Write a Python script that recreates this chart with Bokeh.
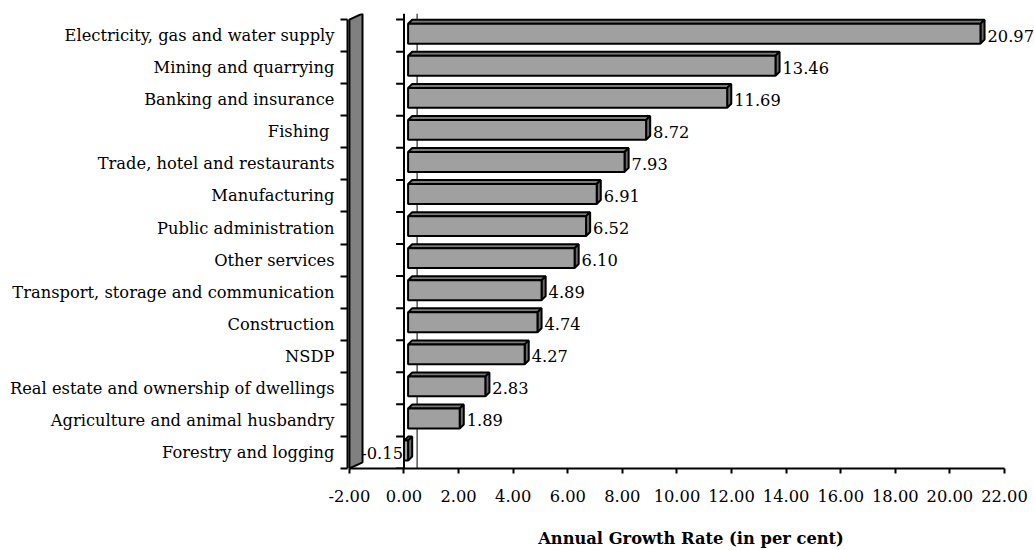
import numpy as np
from bokeh.plotting import figure
from bokeh.models import Range1d, FixedTicker, Span, ColumnDataSource, NumeralTickFormatter
from bokeh.core.properties import value
from bokeh.embed import file_html
from bokeh.resources import INLINE

# Sectors from top to bottom, with annual growth rates (per cent)
sectors = [
    "Electricity, gas and water supply",
    "Mining and quarrying",
    "Banking and insurance",
    "Fishing ",
    "Trade, hotel and restaurants",
    "Manufacturing",
    "Public administration",
    "Other services",
    "Transport, storage and communication",
    "Construction",
    "NSDP",
    "Real estate and ownership of dwellings",
    "Agriculture and animal husbandry",
    "Forestry and logging",
]
growth = [20.97, 13.46, 11.69, 8.72, 7.93, 6.91, 6.52, 6.10, 4.89, 4.74, 4.27, 2.83, 1.89, -0.15]
x_ticks = [-2, 0, 2, 4, 6, 8, 10, 12, 14, 16, 18, 20, 22]
x_title = "Annual Growth Rate (in per cent)"

# y runs bottom-up, so reverse the lists
names = sectors[::-1]
rates = np.array(growth[::-1])
pos = np.arange(len(names))
n = len(names)

FONT = "DejaVu Serif"
FS = "16.3px"

# 3-D look: floor wall depth and bar depth (data units)
WALL_DX, WALL_DY = 0.48, 0.19
BAR_X0 = 0.15
BAR_SHIFT = 0.06
BAR_H = 0.62
BAR_DX, BAR_DY = 0.15, 0.125
CAT_TICK = 0.29

X_MIN, X_MAX = x_ticks[0], x_ticks[-1]

p = figure(
    width=1034, height=550,
    x_range=Range1d(X_MIN - 0.07, 23.1),
    y_range=Range1d(-0.5, n - 0.5 + WALL_DY),
    output_backend="svg", toolbar_location=None,
    min_border_left=347, min_border_right=0, min_border_top=13, min_border_bottom=82,
)
p.outline_line_color = None
p.grid.visible = False

# ---- category (left) axis: ticks on band boundaries, names on band centres
ya = p.yaxis[0]
ya.ticker = FixedTicker(ticks=list(pos), minor_ticks=list(np.arange(-0.5, n, 1.0)))
ya.major_label_overrides = {int(k): nm for k, nm in zip(pos, names)}
ya.bounds = (-0.5, n - 0.5)
ya.major_tick_line_color = None
ya.major_tick_out = 0
ya.major_tick_in = 0
ya.minor_tick_out = 7
ya.minor_tick_in = 0
ya.minor_tick_line_width = 2
ya.minor_tick_line_color = "black"
ya.axis_line_width = 2
ya.axis_line_color = "black"
ya.major_label_standoff = 6
ya.major_label_text_font = FONT
ya.major_label_text_font_size = FS
ya.major_label_text_color = "black"

# ---- value (bottom) axis
xa = p.xaxis[0]
xa.ticker = FixedTicker(ticks=x_ticks)
xa.formatter = NumeralTickFormatter(format="0.00")
xa.bounds = (X_MIN, X_MAX)
xa.major_tick_out = 5
xa.major_tick_in = 0
xa.major_tick_line_width = 2
xa.major_tick_line_color = "black"
xa.minor_tick_line_color = None
xa.axis_line_width = 2
xa.axis_line_color = "black"
xa.major_label_standoff = 16
xa.major_label_text_font = FONT
xa.major_label_text_font_size = FS
xa.major_label_text_color = "black"
xa.axis_label = x_title
xa.axis_label_text_font = FONT
xa.axis_label_text_font_size = FS
xa.axis_label_text_font_style = "bold"
xa.axis_label_text_color = "black"
xa.axis_label_standoff = 24

# ---- gray floor wall at the axis minimum
p.patch(
    x=[X_MIN, X_MIN, X_MIN + WALL_DX, X_MIN + WALL_DX],
    y=[-0.5, n - 0.5, n - 0.5 + WALL_DY, -0.5 + WALL_DY],
    fill_color="#808080", line_color="black", line_width=2,
)

# back-wall zero line and the zero axis with its own band ticks
p.add_layout(Span(location=0 + WALL_DX, dimension="height", line_color="black",
                  line_width=1, level="underlay"))
p.add_layout(Span(location=0, dimension="height", line_color="black", line_width=2))
bounds_y = np.arange(-0.5, n, 1.0)
p.segment(x0=np.full(len(bounds_y), -CAT_TICK), x1=np.zeros(len(bounds_y)),
          y0=bounds_y, y1=bounds_y, line_color="black", line_width=2)

# ---- 3-D bars
lo = np.minimum(rates, 0) + BAR_X0
hi = np.maximum(rates, 0) + BAR_X0
yc = pos + BAR_SHIFT
top = yc + BAR_H / 2
bot = yc - BAR_H / 2

top_xs = [[l, l + BAR_DX, h + BAR_DX, h] for l, h in zip(lo, hi)]
top_ys = [[t, t + BAR_DY, t + BAR_DY, t] for t in top]
side_xs = [[h, h + BAR_DX, h + BAR_DX, h] for h in hi]
side_ys = [[b, b + BAR_DY, t + BAR_DY, t] for b, t in zip(bot, top)]

p.patches(xs=top_xs, ys=top_ys, fill_color="#7a7a7a", line_color="black", line_width=2)
p.patches(xs=side_xs, ys=side_ys, fill_color="#6a6a6a", line_color="black", line_width=2)
p.quad(left=lo, right=hi, bottom=bot, top=top,
       fill_color="#A0A0A0", line_color="black", line_width=2)

# ---- value labels
pos_mask = rates >= 0
lab = ColumnDataSource(dict(
    x=np.where(pos_mask, hi, lo),
    y=yc,
    text=[f"{v:.2f}" for v in rates],
    align=["left" if m else "right" for m in pos_mask],
    dx=[7 if m else -1 for m in pos_mask],
))
p.text(x="x", y="y", text="text", source=lab, text_align="align", x_offset="dx",
       y_offset=2, text_baseline="middle", text_font=value(FONT), text_font_size=FS,
       text_color="black")

open("out.html", "w").write(file_html(p, INLINE))
